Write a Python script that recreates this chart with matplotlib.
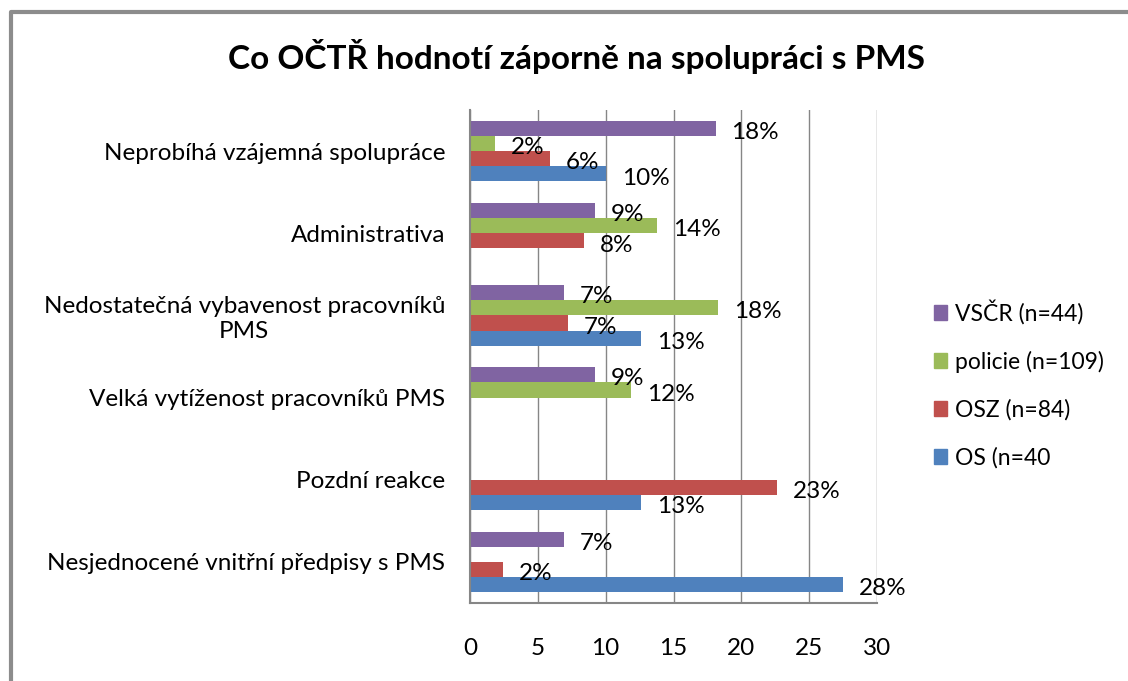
import numpy as np
import matplotlib.pyplot as plt
from matplotlib.patches import Patch
from matplotlib.lines import Line2D

plt.rcParams['font.family'] = ['Lato', 'DejaVu Sans']

# categories top -> bottom
categories = ['Neprobíhá vzájemná spolupráce',
              'Administrativa',
              'Nedostatečná vybavenost pracovníků\nPMS',
              'Velká vytíženost pracovníků PMS',
              'Pozdní reakce',
              'Nesjednocené vnitřní předpisy s PMS']

series_names = ['VSČR (n=44)', 'policie (n=109)', 'OSZ (n=84)', 'OS (n=40']
colors = ['#8064A2', '#9BBB59', '#C0504D', '#4F81BD']

vscr = [18.1, 9.2, 6.9, 9.2, np.nan, 6.9]
policie = [1.85, 13.8, 18.3, 11.9, np.nan, np.nan]
osz = [5.9, 8.4, 7.2, np.nan, 22.6, 2.4]
os_ = [10.0, np.nan, 12.6, np.nan, 12.6, 27.5]
values = [vscr, policie, osz, os_]

W, H = 1128, 681
fig = plt.figure(figsize=(W / 100, H / 100), dpi=100)

# outer frame (only left and top visible)
fig.add_artist(Line2D([10.5 / W, 10.5 / W, 1.0], [0, 1 - 11.5 / H, 1 - 11.5 / H],
                      transform=fig.transFigure, color='#8c8c8c', lw=3))

fig.text(576 / W, 1 - 57 / H, 'Co OČTŘ hodnotí záporně na spolupráci s PMS',
         ha='center', va='center', fontsize=24, fontweight='bold')

ax = fig.add_axes([470 / W, 1 - 603 / H, (877 - 470) / W, (603 - 110) / H])

y = np.arange(len(categories))
bh = 0.185
offs = [-1.5, -0.5, 0.5, 1.5]
for vals, off, col in zip(values, offs, colors):
    ax.barh(y + off * bh, vals, height=bh, color=col)
    for yi, v in zip(y, vals):
        if np.isnan(v):
            continue
        ax.annotate('%d%%' % int(v + 0.5), (v, yi + off * bh),
                    xytext=(11.5, -3), textcoords='offset points',
                    ha='left', va='center', fontsize=17.5)

ax.set_ylim(len(categories) - 0.5, -0.5)
ax.set_xlim(0, 30)
ax.set_xticks(range(0, 31, 5))
ax.set_yticks(y)
ax.set_yticklabels(categories, multialignment='center')
ax.tick_params(axis='x', length=0, pad=25, labelsize=17.5)
ax.tick_params(axis='y', length=0, pad=18, labelsize=17.5)
ax.grid(axis='x', color='#868686', lw=1)
ax.set_axisbelow(True)
for s in ['top', 'right']:
    ax.spines[s].set_visible(False)
for s in ['left', 'bottom']:
    ax.spines[s].set_color('#868686')
    ax.spines[s].set_linewidth(1.5)

handles = [Patch(color=c) for c in colors]
fig.legend(handles, series_names, loc='center left',
           bbox_to_anchor=(913 / W, 1 - 384 / H), frameon=False,
           fontsize=16.5, handlelength=0.6, handleheight=0.6,
           handletextpad=0.35, labelspacing=1.15)

fig.savefig('out.png', dpi=100)
